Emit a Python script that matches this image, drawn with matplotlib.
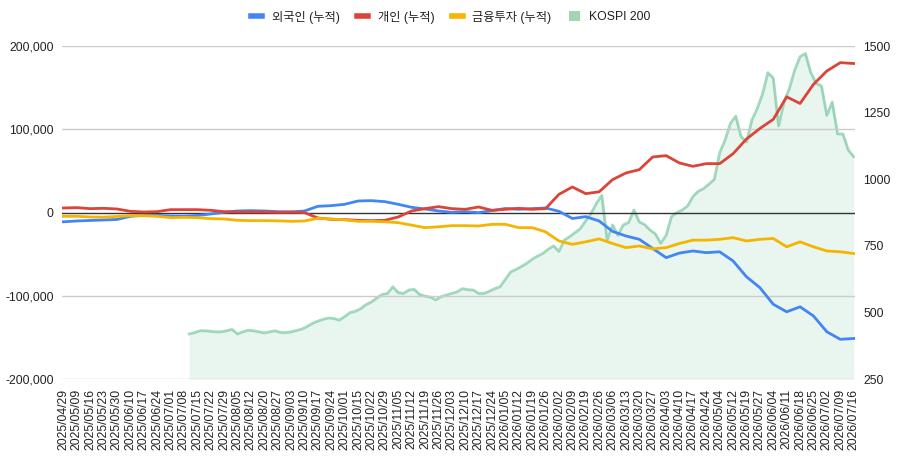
import numpy as np
import matplotlib
matplotlib.use('Agg')
import matplotlib.pyplot as plt
from matplotlib.lines import Line2D
from matplotlib.patches import Patch
from matplotlib.ticker import FuncFormatter

plt.rcParams['font.family'] = ['Liberation Sans', 'Noto Sans CJK KR']

# ---- data -------------------------------------------------------------
dates = ['2025/04/29', '2025/05/09', '2025/05/16', '2025/05/23', '2025/05/30',
         '2025/06/10', '2025/06/17', '2025/06/24', '2025/07/01', '2025/07/08',
         '2025/07/15', '2025/07/22', '2025/07/29', '2025/08/05', '2025/08/12',
         '2025/08/20', '2025/08/27', '2025/09/03', '2025/09/10', '2025/09/17',
         '2025/09/24', '2025/10/01', '2025/10/15', '2025/10/22', '2025/10/29',
         '2025/11/05', '2025/11/12', '2025/11/19', '2025/11/26', '2025/12/03',
         '2025/12/10', '2025/12/17', '2025/12/24', '2026/01/05', '2026/01/12',
         '2026/01/19', '2026/01/26', '2026/02/02', '2026/02/09', '2026/02/19',
         '2026/02/26', '2026/03/06', '2026/03/13', '2026/03/20', '2026/03/27',
         '2026/04/03', '2026/04/10', '2026/04/17', '2026/04/24', '2026/05/04',
         '2026/05/12', '2026/05/19', '2026/05/27', '2026/06/04', '2026/06/11',
         '2026/06/18', '2026/06/25', '2026/07/02', '2026/07/09', '2026/07/16']

# cumulative net buying (thousands), one value per labelled date
foreign = [-11, -10, -9.4, -8.8, -8.2, -4.4, -3.2, -3.2, -4, -4.2,
           -3.4, -1.6, 0.4, 2, 2.4, 2, 1.2, 0.8, 2, 7.6,
           8.4, 10, 14, 14.4, 13.2, 10, 6.4, 4.4, 2, 0.4,
           1.2, 0, 2.4, 5, 4, 4.8, 5.6, 1.6, -7, -4.8,
           -10, -22.5, -28, -32, -43, -54, -48.5, -46, -48, -47,
           -58, -77, -90, -110, -119, -113, -124, -143, -152, -151]
individual = [5.6, 6, 4.8, 5.2, 4.4, 1.6, 0.8, 1.2, 3.6, 3.6,
              3.6, 2.8, 1.2, 0.8, 0.8, 0.8, 0.4, 0.8, 0, -6.4,
              -8, -8.4, -9.2, -9.6, -9.2, -5.2, 2, 4.8, 7.2, 4.8,
              4, 6.8, 2.8, 4, 5.2, 4, 4.8, 22, 30.8, 22.8,
              25, 39.6, 47.6, 51.6, 66.8, 68.4, 59.6, 55.6, 58.8, 58.8,
              70.8, 88.4, 101, 112, 139, 131, 154, 170, 180, 179]
financial = [-4.4, -4.4, -5.2, -5.4, -4.6, -3.6, -3.8, -4.4, -6, -5.6,
             -6, -7.2, -7.6, -9.2, -9.6, -9.6, -9.8, -10.4, -10, -6.8,
             -7.6, -8.6, -10.4, -10.4, -11, -12, -15, -18, -17, -15.6,
             -15.6, -16, -14, -14, -18, -18, -23, -34, -38, -35,
             -31.5, -37, -42, -40, -43.5, -42, -37, -33, -33, -32,
             -30, -34, -32, -31, -41, -35, -41, -46, -47, -49]

# KOSPI 200, every 2nd trading day starting at trading day 47
kospi_first_day = 47
kospi_every = 2
kospi = [420, 425, 432, 432, 430, 428, 428, 432, 437, 420,
         428, 434, 432, 428, 424, 428, 432, 426, 425, 428,
         433, 438, 448, 460, 468, 475, 480, 478, 472, 485,
         500, 505, 515, 530, 540, 555, 568, 572, 597, 575,
         572, 585, 587, 568, 562, 558, 548, 560, 566, 572,
         578, 590, 586, 585, 572, 572, 580, 590, 597, 625,
         653, 662, 673, 685, 700, 712, 722, 738, 750, 730,
         772, 785, 800, 815, 845, 872, 910, 940, 772, 829,
         790, 829, 838, 885, 840, 830, 810, 795, 760, 790,
         860, 875, 885, 900, 935, 955, 965, 982, 1000, 1100,
         1147, 1210, 1237, 1160, 1140, 1222, 1265, 1320, 1400, 1380,
         1200, 1290, 1340, 1410, 1460, 1472, 1400, 1360, 1350, 1240,
         1290, 1170, 1170, 1110, 1085]

label_every = 5  # trading days between labelled dates
n_days = label_every * (len(dates) - 1) + 1

# ---- figure -----------------------------------------------------------
fig = plt.figure(figsize=(9.02, 4.62), dpi=100)
ax = fig.add_axes([62 / 902, 1 - 379.3 / 462, (855 - 62) / 902, (379.3 - 46) / 462])
ax2 = ax.twinx()

x_lab = np.arange(len(dates)) * label_every
x_k = kospi_first_day + kospi_every * np.arange(len(kospi))

green = '#0F9D58'
ax2.fill_between(x_k, 250, kospi, color=green, alpha=0.09, lw=0)
ax2.plot(x_k, kospi, color=green, alpha=0.38, lw=2.0)

ax.set_zorder(ax2.get_zorder() + 1)
ax.patch.set_visible(False)

ax.plot(x_lab, np.array(foreign) * 1000, color='#4285F4', lw=2.0)
ax.plot(x_lab, np.array(individual) * 1000, color='#DB4437', lw=2.0)
ax.plot(x_lab, np.array(financial) * 1000, color='#F4B400', lw=2.0)

ax.set_xlim(-0.5, n_days - 0.5)
ax.set_ylim(-200000, 200000)
ax2.set_ylim(250, 1500)

ax.set_yticks([-200000, -100000, 0, 100000, 200000])
ax.yaxis.set_major_formatter(FuncFormatter(lambda v, p: f'{int(v):,}'))
ax2.set_yticks([250, 500, 750, 1000, 1250, 1500])

for yv in [-200000, -100000, 100000, 200000]:
    ax.axhline(yv, color='#cccccc', lw=1.0, zorder=0)
ax.axhline(0, color='#333333', lw=1.0, zorder=1.5)

ax.set_xticks(x_lab)
ax.set_xticklabels(dates, rotation=90)

for a in (ax, ax2):
    for s in a.spines.values():
        s.set_visible(False)
    a.tick_params(length=0, labelsize=8.8, colors='#222222')
ax.tick_params(axis='x', pad=7)
ax.tick_params(axis='y', pad=6)
ax2.tick_params(axis='y', pad=6)

handles = [Line2D([0], [0], color='#4285F4', lw=4),
           Line2D([0], [0], color='#DB4437', lw=4),
           Line2D([0], [0], color='#F4B400', lw=4),
           Patch(facecolor='#A3D6B0', edgecolor='none')]
labels = ['외국인 (누적)', '개인 (누적)', '금융투자 (누적)', 'KOSPI 200']
fig.legend(handles, labels, loc='center', bbox_to_anchor=(0.5, 1 - 17 / 462),
           ncol=4, frameon=False, fontsize=8.8, handlelength=0.9,
           handleheight=0.9, handletextpad=0.8, columnspacing=1.4,
           labelcolor='#222222')

fig.savefig('out.png', dpi=100)
